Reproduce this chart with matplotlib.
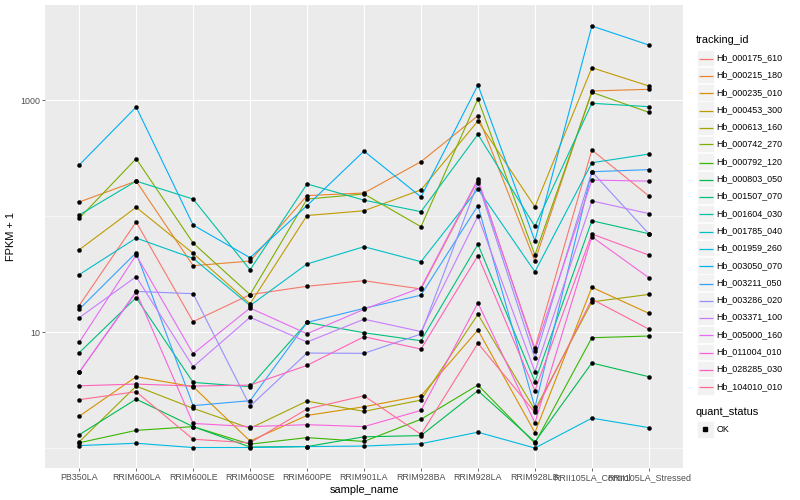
import matplotlib
matplotlib.use("Agg")
import matplotlib.pyplot as plt
from matplotlib.lines import Line2D
from matplotlib.patches import Rectangle

plt.rcParams['font.family'] = ['Liberation Sans', 'DejaVu Sans']

samples = ["PB350LA", "RRIM600LA", "RRIM600LE", "RRIM600SE", "RRIM600PE",
           "RRIM901LA", "RRIM928BA", "RRIM928LA", "RRIM928LB",
           "RRII105LA_Control", "RRII105LA_Stressed"]

tracking_ids = ["Hb_000175_610", "Hb_000215_180", "Hb_000235_010", "Hb_000453_300",
                "Hb_000613_160", "Hb_000742_270", "Hb_000792_120", "Hb_000803_050",
                "Hb_001507_070", "Hb_001604_030", "Hb_001785_040", "Hb_001959_260",
                "Hb_003050_070", "Hb_003211_050", "Hb_003286_020", "Hb_003371_100",
                "Hb_005000_160", "Hb_011004_010", "Hb_028285_030", "Hb_104010_010"]

colors = ["#F8766D", "#EA8331", "#D89000", "#C09B00", "#A3A500", "#7CAE00",
          "#39B600", "#00BB4E", "#00BF7D", "#00C1A3", "#00BFC4", "#00BAE0",
          "#00B0F6", "#35A2FF", "#9590FF", "#C77CFF", "#E76BF3", "#FA62DB",
          "#FF62BC", "#FF6C91"]

# FPKM + 1 per sample (order of `samples`)
hb_000175_610 = [16.9, 88.8, 12.3, 21.0, 24.8, 27.7, 23.5, 202, 7.23, 371, 149]
hb_000215_180 = [132, 200, 37.3, 40.9, 150, 158, 294, 732, 40.9, 1196, 1237]
hb_000235_010 = [1.88, 4.12, 3.38, 1.15, 1.91, 2.27, 2.82, 10.4, 1.36, 24.3, 14.5]
hb_000453_300 = [51.2, 119, 47.7, 17.5, 101, 111, 168, 659, 120, 1898, 1321]
hb_000613_160 = [1.13, 3.42, 2.20, 1.48, 2.54, 2.07, 2.59, 14.2, 2.13, 18.2, 21.1]
hb_000742_270 = [95.5, 312, 58.5, 21.0, 140, 155, 80.9, 1020, 46.1, 1165, 783]
hb_000792_120 = [1.11, 1.42, 1.53, 1.08, 1.23, 1.14, 1.77, 3.49, 1.10, 8.93, 9.24]
hb_000803_050 = [1.30, 2.64, 1.53, 1.02, 1.03, 1.25, 1.28, 3.12, 1.13, 5.41, 4.12]
hb_001507_070 = [6.63, 19.8, 3.68, 3.38, 12.1, 9.86, 8.41, 57.0, 3.73, 91.1, 70.4]
hb_001604_030 = [102, 200, 140, 34.4, 189, 137, 109, 506, 81.5, 937, 876]
hb_001785_040 = [31.2, 64.6, 43.2, 16.9, 38.6, 54.4, 40.4, 171, 33.1, 288, 342]
hb_001959_260 = [1.05, 1.10, 1.01, 1.01, 1.03, 1.04, 1.09, 1.37, 1.00, 1.81, 1.50]
hb_003050_070 = [275, 870, 83.6, 43.7, 123, 363, 146, 1347, 61.2, 4345, 2979]
hb_003211_050 = [15.7, 48.3, 2.32, 2.56, 12.1, 16.0, 20.8, 123, 2.24, 241, 251]
hb_003286_020 = [4.49, 22.4, 21.4, 2.30, 6.59, 6.55, 9.61, 194, 5.93, 241, 70.4]
hb_003371_100 = [13.3, 30.0, 5.02, 13.4, 8.20, 12.9, 10.1, 100, 4.55, 135, 105]
hb_005000_160 = [8.15, 46.1, 6.50, 16.1, 9.67, 15.7, 24.1, 208, 6.90, 204, 200]
hb_011004_010 = [4.49, 22.1, 1.63, 1.53, 1.59, 1.53, 2.11, 17.8, 1.65, 66.3, 29.4]
hb_028285_030 = [3.44, 3.56, 3.42, 3.49, 5.16, 9.11, 7.13, 45.5, 3.12, 70.0, 46.1]
hb_104010_010 = [2.61, 3.06, 1.19, 1.11, 2.17, 2.82, 1.31, 8.0, 2.03, 19.2, 10.6]

series = [hb_000175_610, hb_000215_180, hb_000235_010, hb_000453_300, hb_000613_160,
          hb_000742_270, hb_000792_120, hb_000803_050, hb_001507_070, hb_001604_030,
          hb_001785_040, hb_001959_260, hb_003050_070, hb_003211_050, hb_003286_020,
          hb_003371_100, hb_005000_160, hb_011004_010, hb_028285_030, hb_104010_010]

W, H = 800, 500
fig = plt.figure(figsize=(W / 100, H / 100), dpi=100)
fig.patch.set_facecolor("white")

pl, pr, pt, pb = 45, 683, 5, 468
ax = fig.add_axes([pl / W, 1 - pb / H, (pr - pl) / W, (pb - pt) / H])
ax.set_facecolor("#EBEBEB")
for s in ax.spines.values():
    s.set_visible(False)

x = list(range(len(samples)))
for vals, c in zip(series, colors):
    ax.plot(x, vals, color=c, lw=0.8, solid_capstyle="butt", zorder=2)
for vals in series:
    ax.plot(x, vals, linestyle="none", marker="o", markersize=2.9,
            markerfacecolor="black", markeredgecolor="black", markeredgewidth=0.3, zorder=3)

ax.set_yscale("log")
ax.set_xlim(-0.6, len(samples) - 1 + 0.6)
ax.set_ylim(10 ** -0.172, 10 ** 3.819)
ax.set_xticks(x)
ax.set_xticklabels(samples)
ax.set_yticks([10, 1000])
ax.set_yticklabels(["10", "1000"])
ax.set_yticks([1, 100], minor=True)
ax.set_xticks([], minor=True)
ax.tick_params(axis="both", which="major", length=2.0, width=0.5, color="#333333",
               labelcolor="#4D4D4D", labelsize=6.4, pad=1.6)
ax.tick_params(axis="y", which="minor", length=0, labelleft=False)
ax.grid(which="major", color="white", lw=0.8)
ax.grid(which="minor", axis="y", color="white", lw=0.4)
ax.set_axisbelow(True)

ax.set_xlabel("sample_name", fontsize=7.9, color="black", labelpad=2.5)
ax.set_ylabel("FPKM + 1", fontsize=7.9, color="black", labelpad=3)

# legend (drawn by hand, ggplot style)
def fx(px):
    return px / W

def fy(py):
    return 1 - py / H

fig.text(fx(696), fy(40), "tracking_id", fontsize=7.9, va="center", ha="left")
step = 17.3
y0 = 57.7
for i, (name, c) in enumerate(zip(tracking_ids, colors)):
    yc = y0 + i * step
    ys = round(yc) + 0.5
    fig.patches.append(Rectangle((fx(697), fy(yc + 8.2)), 16.6 / W, 16.4 / H,
                                 transform=fig.transFigure, facecolor="#F2F2F2",
                                 edgecolor="white", lw=0.5, zorder=1))
    fig.lines.append(Line2D([fx(698.5), fx(712.5)], [fy(ys), fy(ys)],
                            transform=fig.transFigure, color=c, lw=0.9,
                            solid_capstyle="butt", zorder=3))
    fig.text(fx(716.5), fy(yc), name, fontsize=6.4, va="center", ha="left")

fig.text(fx(696), fy(412), "quant_status", fontsize=7.9, va="center", ha="left")
fig.patches.append(Rectangle((fx(697), fy(437.5)), 16.6 / W, 16.4 / H,
                             transform=fig.transFigure, facecolor="#F2F2F2",
                             edgecolor="white", lw=0.5, zorder=1))
fig.lines.append(Line2D([fx(705.3)], [fy(429.3)], transform=fig.transFigure,
                        marker="s", markersize=2.4, color="black", linestyle="none",
                        zorder=3))
fig.text(fx(716.5), fy(429.3), "OK", fontsize=6.4, va="center", ha="left")

fig.savefig("out.png", dpi=100)
